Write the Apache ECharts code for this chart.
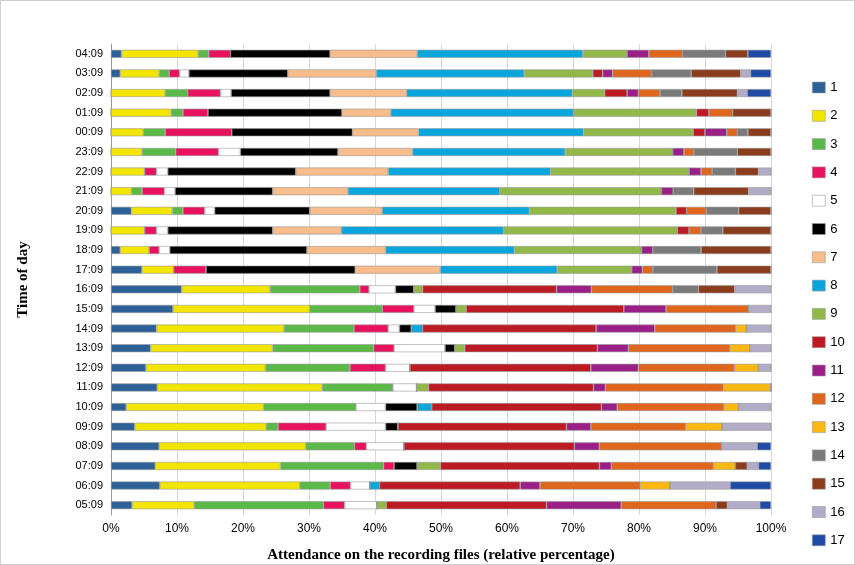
<!DOCTYPE html>
<html>
<head>
<meta charset="utf-8">
<script src="https://cdn.jsdelivr.net/npm/echarts@6/dist/echarts.min.js"></script>
<style>
  html, body { margin: 0; padding: 0; background: #fff; }
  #main { width: 853px; height: 563px; border: 1px solid #d0d0d0; }
</style>
</head>
<body>
<div id="main"></div>
<script>
// rows top to bottom, widths for sources 1..17 (percent)
var times = ['04:09','03:09','02:09','01:09','00:09','23:09','22:09','21:09','20:09','19:09','18:09','17:09',
             '16:09','15:09','14:09','13:09','12:09','11:09','10:09','09:09','08:09','07:09','06:09','05:09'];
var r0409 = [1.6,11.6,1.6,3.3,0,15.1,13.2,25.1,6.7,0,3.3,5.1,0,6.5,3.4,0,3.5];
var r0309 = [1.4,5.9,1.5,1.6,1.4,15.0,13.4,22.4,10.4,1.5,1.5,5.9,0,6.0,7.5,1.5,3.1];
var r0209 = [0,8.2,3.4,5.0,1.6,15.0,11.6,25.1,4.9,3.4,1.7,3.3,0,3.3,8.4,1.5,3.6];
var r0109 = [0,9.1,1.8,3.8,0,20.3,7.4,27.7,18.6,1.9,0,3.6,0,0,5.8,0,0];
var r0009 = [0,4.9,3.3,10.1,0,18.3,10.0,25.0,16.6,1.8,3.3,1.6,0,1.6,3.5,0,0];
var r2309 = [0,4.7,5.1,6.5,3.3,14.8,11.3,23.1,16.3,0,1.7,1.5,0,6.6,5.1,0,0];
var r2209 = [0,5.1,0,1.8,1.7,19.4,14.0,24.6,21.0,0,1.8,1.7,0,3.5,3.5,1.9,0];
var r2109 = [0,3.1,1.6,3.4,1.6,14.8,11.4,23.0,24.5,0,1.8,0,0,3.1,8.3,3.4,0];
var r2009 = [3.1,6.2,1.6,3.3,1.5,14.4,11.0,22.3,22.2,1.6,0,3.0,0,4.9,4.9,0,0];
var r1909 = [0,5.1,0,1.8,1.7,15.9,10.4,24.6,26.3,1.8,0,1.8,0,3.3,7.3,0,0];
var r1809 = [1.4,4.4,0,1.5,1.6,20.8,11.9,19.5,19.3,0,1.7,0,0,7.3,10.6,0,0];
var r1709 = [4.7,4.8,0,4.9,0,22.6,12.9,17.7,11.3,0,1.6,1.6,0,9.7,8.2,0,0];
var r1609 = [10.7,13.4,13.6,1.4,4.0,2.8,0,0,1.3,20.3,5.3,12.3,0,3.9,5.5,5.5,0];
var r1509 = [9.4,20.7,11.0,4.8,3.2,3.2,0,0,1.5,23.9,6.4,12.5,0,0,0,3.4,0];
var r1409 = [6.9,19.3,10.6,5.2,1.7,1.8,0,1.7,0,26.3,8.9,12.3,1.6,0,0,3.7,0];
var r1309 = [6.0,18.5,15.3,3.1,7.7,1.5,0,0,1.5,20.1,4.7,15.4,3.0,0,0,3.2,0];
var r1209 = [5.3,18.1,12.8,5.4,3.7,0,0,0,0,27.4,7.2,14.6,3.6,0,0,1.9,0];
var r1109 = [7.0,25.0,10.7,0,3.6,0,0,0,1.8,25.0,1.8,17.9,7.2,0,0,0,0];
var r1009 = [2.3,20.8,14.0,0,4.5,4.8,0,2.2,0,25.7,2.4,16.2,2.2,0,0,4.9,0];
var r0909 = [3.6,19.9,1.8,7.3,9.0,1.9,0,0,0,25.5,3.7,14.4,5.5,0,0,7.4,0];
var r0809 = [7.3,22.2,7.4,1.8,5.7,0,0,0,0,25.8,3.8,18.5,0,0,0,5.4,2.1];
var r0709 = [6.7,19.0,15.6,1.6,0,3.5,0,0,3.5,24.1,1.8,15.5,3.3,0,1.8,1.7,1.9];
var r0609 = [7.4,21.2,4.6,3.1,2.9,0,0,1.5,0,21.3,3.0,15.2,4.5,0,0,9.1,6.2];
var r0509 = [3.2,9.4,19.6,3.2,4.9,0,0,0,1.4,24.3,11.3,14.4,0,0,1.7,4.9,1.7];
var rows = [r0409,r0309,r0209,r0109,r0009,r2309,r2209,r2109,r2009,r1909,r1809,r1709,
            r1609,r1509,r1409,r1309,r1209,r1109,r1009,r0909,r0809,r0709,r0609,r0509];
var names = ['1','2','3','4','5','6','7','8','9','10','11','12','13','14','15','16','17'];
var colors = ['#2e6198','#f2e500','#5ab947','#e8125e','#ffffff','#000000','#f8bd8a','#08a6dd','#93b84a',
              '#bd1b23','#9a2088','#e0661e','#fbb810','#7a7a7a','#8b3c1c','#b3acc9','#1f4aa5'];

var series = names.map(function (n, i) {
    return {
        name: n,
        type: 'bar',
        stack: 'all',
        barWidth: 8,
        itemStyle: { color: colors[i], borderColor: '#9a9a9a', borderWidth: 0.6 },
        data: rows.map(function (r) { return r[i]; })
    };
});

var myChart = echarts.init(document.getElementById('main'));
option = {
    animation: false,
    color: colors,
    grid: { left: 110, right: 83, top: 43, bottom: 49, outerBoundsMode: 'none' },
    legend: {
        orient: 'vertical',
        left: 806,
        top: 74,
        height: 480,
        itemWidth: 13,
        itemHeight: 11,
        itemGap: 13.3,
        icon: 'rect',
        data: names,
        itemStyle: { borderColor: '#9a9a9a', borderWidth: 0.6 },
        textStyle: { fontSize: 13, lineHeight: 15, color: '#000', fontFamily: 'Liberation Sans' }
    },
    xAxis: {
        type: 'value',
        min: 0, max: 100, interval: 10,
        axisLabel: { formatter: '{value}%', color: '#000', fontSize: 12, margin: 8, fontFamily: 'Liberation Sans' },
        splitLine: { lineStyle: { color: '#d8d8d8' } },
        axisLine: { show: false },
        name: 'Attendance on the recording files (relative percentage)',
        nameLocation: 'middle',
        nameGap: 33,
        nameTextStyle: { fontFamily: 'Liberation Serif', fontWeight: 'bold', fontSize: 15, color: '#000' }
    },
    yAxis: {
        type: 'category',
        inverse: true,
        data: times,
        axisLabel: { color: '#000', fontSize: 11, fontFamily: 'Liberation Sans' },
        axisLine: { lineStyle: { color: '#999' } },
        axisTick: { lineStyle: { color: '#999' } },
        name: 'Time of day',
        nameLocation: 'middle',
        nameGap: 80,
        nameTextStyle: { fontFamily: 'Liberation Serif', fontWeight: 'bold', fontSize: 15, color: '#000' }
    },
    series: series
};
myChart.setOption(option);
</script>
</body>
</html>
